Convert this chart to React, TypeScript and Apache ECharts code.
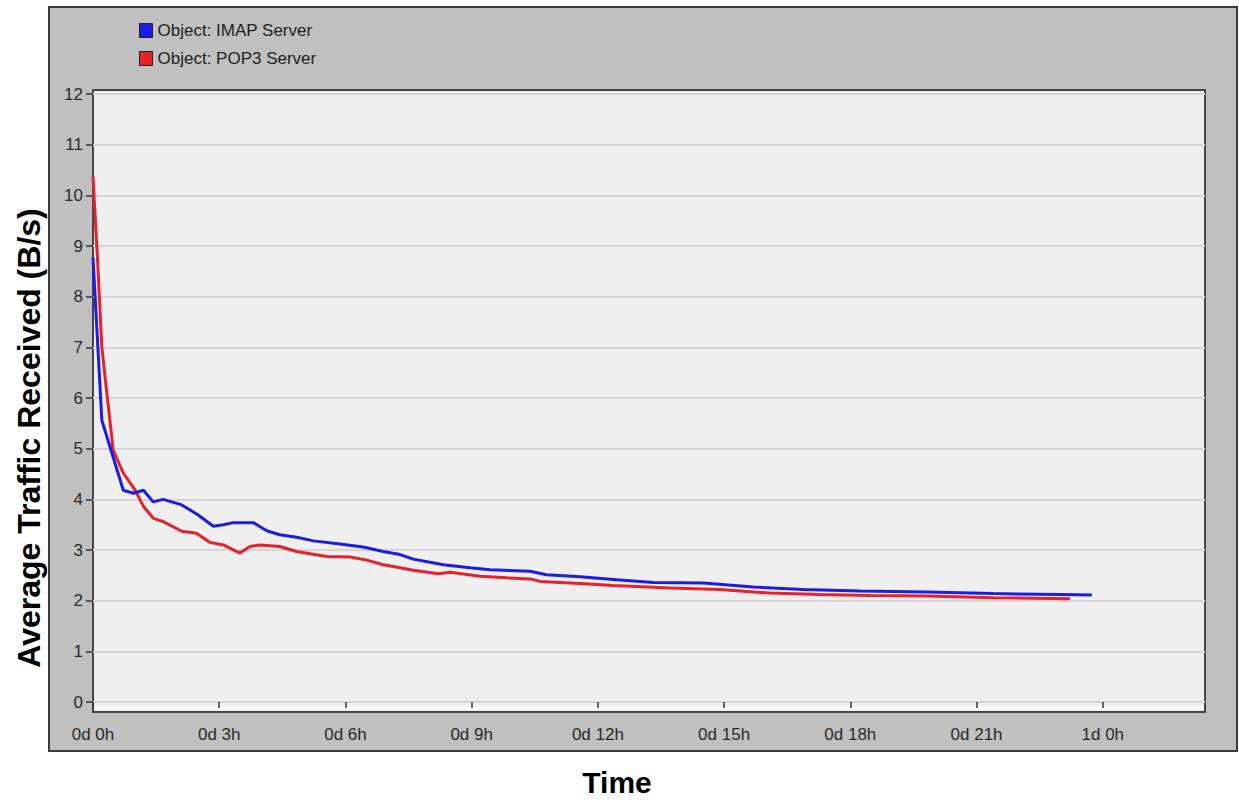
import React, { useEffect, useRef } from "react";
import * as echarts from "echarts";

// Time in hours, values in B/s
const imapHours = [0, 0.21, 0.72, 0.96, 1.2, 1.43, 1.67, 2.11, 2.5, 2.86, 3.1, 3.33, 3.81, 4.13, 4.44, 4.84, 5.24, 5.87, 6.42, 6.9, 7.3, 7.61, 8.33, 8.96, 9.44, 10.39, 10.78, 11.58, 12.37, 13.32, 14.51, 15.7, 16.88, 18.23, 19.82, 21.4, 23.0, 23.74];
const imapValues = [8.77, 5.56, 4.18, 4.12, 4.18, 3.95, 4.0, 3.89, 3.69, 3.47, 3.5, 3.54, 3.54, 3.38, 3.3, 3.25, 3.18, 3.12, 3.06, 2.97, 2.91, 2.82, 2.71, 2.65, 2.61, 2.58, 2.51, 2.47, 2.42, 2.36, 2.35, 2.27, 2.22, 2.19, 2.17, 2.14, 2.12, 2.11];

const pop3Hours = [0, 0.11, 0.21, 0.33, 0.48, 0.72, 1.0, 1.2, 1.43, 1.67, 2.11, 2.46, 2.78, 3.1, 3.49, 3.73, 3.97, 4.44, 4.84, 5.56, 6.11, 6.51, 6.9, 7.3, 7.61, 8.21, 8.49, 9.2, 9.83, 10.39, 10.63, 11.58, 12.37, 13.72, 14.9, 16.09, 17.28, 18.47, 19.82, 21.4, 23.22];
const pop3Values = [10.37, 8.7, 7.0, 6.09, 4.97, 4.52, 4.18, 3.86, 3.63, 3.56, 3.37, 3.33, 3.15, 3.1, 2.94, 3.07, 3.1, 3.07, 2.97, 2.87, 2.86, 2.8, 2.71, 2.65, 2.6, 2.53, 2.56, 2.48, 2.45, 2.43, 2.38, 2.34, 2.3, 2.25, 2.22, 2.15, 2.12, 2.1, 2.09, 2.06, 2.04];

const seriesNames = ["Object: IMAP Server", "Object: POP3 Server"];
const yTitle = "Average Traffic Received (B/s)";
const xTitle = "Time";

const labelFont = '"Liberation Sans Narrow", "Liberation Sans", Arial, sans-serif';
const titleFont = '"Liberation Sans", Arial, sans-serif';

function fmtHour(v: number): string {
  if (Math.abs(v / 3 - Math.round(v / 3)) > 1e-6) return "";
  const d = Math.floor(v / 24);
  const h = Math.round(v - d * 24);
  return `${d}d ${h}h`;
}

export default function App() {
  const ref = useRef<HTMLDivElement>(null);
  useEffect(() => {
    document.body.style.margin = "0";
    const chart = echarts.init(ref.current!, undefined, { renderer: "svg" });
    chart.setOption({
      animation: false,
      backgroundColor: "#ffffff",
      graphic: [
        {
          type: "rect",
          z: -10,
          shape: { x: 49, y: 7, width: 1188, height: 744 },
          style: { fill: "#c0c0c0", stroke: "#3c3c3c", lineWidth: 2 },
        },
        {
          type: "rect",
          z: -9,
          shape: { x: 93, y: 90, width: 1112, height: 622 },
          style: { fill: "#efefef", stroke: "#444444", lineWidth: 2 },
        },
        {
          type: "line",
          z: -8,
          shape: { x1: 95, y1: 708, x2: 1203, y2: 708 },
          style: { stroke: "#ffffff", lineWidth: 3 },
        },
        {
          type: "text",
          x: 29,
          y: 438,
          rotation: Math.PI / 2,
          style: {
            text: yTitle,
            fontSize: 32,
            fontWeight: "bold",
            fontFamily: titleFont,
            fill: "#000000",
            align: "center",
            verticalAlign: "middle",
          },
        },
        {
          type: "text",
          x: 617,
          y: 782,
          style: {
            text: xTitle,
            fontSize: 30,
            fontWeight: "bold",
            fontFamily: titleFont,
            fill: "#000000",
            align: "center",
            verticalAlign: "middle",
          },
        },
      ],
      legend: {
        orient: "vertical",
        left: 134,
        top: 17,
        icon: "rect",
        itemWidth: 13,
        itemHeight: 14,
        itemGap: 11,
        data: seriesNames,
        itemStyle: { borderColor: "#222", borderWidth: 1 },
        textStyle: { fontSize: 17, fontFamily: labelFont, color: "#222" },
      },
      grid: { left: 93, right: 34, top: 94, bottom: 98 },
      xAxis: {
        type: "value",
        min: 0,
        max: 26.43,
        interval: 3,
        offset: 9,
        axisLine: { show: false },
        axisTick: { show: true, length: 6, lineStyle: { color: "#333", width: 1.5 } },
        axisLabel: {
          margin: 15,
          color: "#2a2a2a",
          fontSize: 17,
          fontFamily: labelFont,
          showMaxLabel: false,
          formatter: (v: number) => fmtHour(v),
        },
        splitLine: { show: false },
      },
      yAxis: {
        type: "value",
        min: 0,
        max: 12,
        interval: 1,
        axisLine: { show: false },
        axisTick: { show: true, length: 7, lineStyle: { color: "#333", width: 1.5 } },
        axisLabel: { margin: 10, color: "#2a2a2a", fontSize: 17, fontFamily: labelFont },
        splitLine: { show: true, lineStyle: { color: "#d5d5d5", width: 2 } },
      },
      series: [
        {
          name: seriesNames[0],
          type: "line",
          showSymbol: false,
          color: "#1c1ce6",
          lineStyle: { width: 3, color: "#1c1ce6" },
          data: imapHours.map((t, i) => [t, imapValues[i]]),
          z: 3,
        },
        {
          name: seriesNames[1],
          type: "line",
          showSymbol: false,
          color: "#e8202a",
          lineStyle: { width: 3, color: "#e8202a" },
          data: pop3Hours.map((t, i) => [t, pop3Values[i]]),
          z: 2,
        },
      ],
    });
    return () => chart.dispose();
  }, []);
  return <div ref={ref} style={{ width: 1239, height: 800 }} />;
}
